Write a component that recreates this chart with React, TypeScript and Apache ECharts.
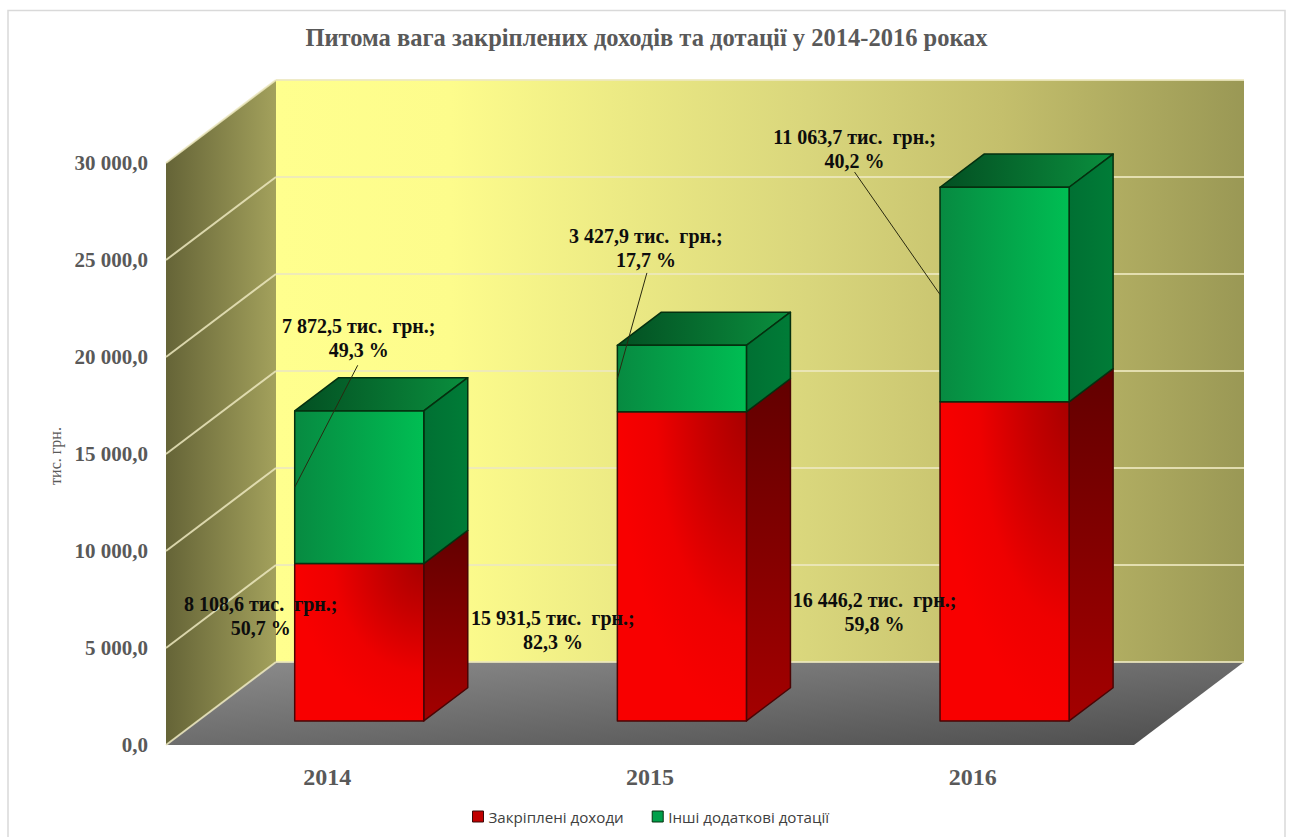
import React, { useEffect, useRef } from "react";
import * as echarts from "echarts";

const TITLE = "Питома вага закріплених доходів та дотації у 2014-2016 роках";
const AXIS_NAME = "тис. грн.";
const categories = ["2014", "2015", "2016"];
const seriesNames = ["Закріплені доходи", "Інші додаткові дотації"];
const fixedIncome = [8108.6, 15931.5, 16446.2];
const otherGrants = [7872.5, 3427.9, 11063.7];
const fixedShare = ["50,7", "82,3", "59,8"];
const otherShare = ["49,3", "17,7", "40,2"];
const yTicks = [0, 5000, 10000, 15000, 20000, 25000, 30000];

// Layout of the pseudo-3D scene and its labels (pixels, not data)
const DEPTH = { dx: 110, dy: -83 };
const BAR_NEAR = 0.29;
const BAR_FAR = 0.69;
const SERIF = "'Liberation Serif', serif";
// label centre and leader start, relative to the centre of the segment's front face
const fixedLabelOffset = [
  { x: -98.5, y: -26 },
  { x: -129, y: 64 },
  { x: -130, y: 51 },
];
const otherLabelOffset = [
  { x: -0.5, y: -149, lx: -1.5, ly: -122 },
  { x: -36, y: -130.7, lx: -35, ly: -105.7 },
  { x: -150, y: -146, lx: -150, ly: -122.5 },
];

const fmt = (v: number) =>
  v
    .toFixed(1)
    .replace(".", ",")
    .replace(/\B(?=(\d{3})+(?!\d))/g, " ");

const H = (a: string, b: string) =>
  new echarts.graphic.LinearGradient(0, 0, 1, 0, [
    { offset: 0, color: a },
    { offset: 1, color: b },
  ]);
const V = (a: string, b: string) =>
  new echarts.graphic.LinearGradient(0, 0, 0, 1, [
    { offset: 0, color: a },
    { offset: 1, color: b },
  ]);

const poly = (points: number[][], fill: any, stroke?: string, lineWidth = 1.5) => ({
  type: "polygon",
  shape: { points },
  style: { fill, stroke: stroke ?? "none", lineWidth, lineJoin: "round" },
});

function renderWalls(params: any) {
  const g = params.coordSys;
  const { dx, dy } = DEPTH;
  const l = g.x;
  const r = g.x + g.width;
  const t = g.y;
  const b = g.y + g.height;
  const back = new echarts.graphic.LinearGradient(0, 0, 1, 0, [
    { offset: 0, color: "#FFFF8E" },
    { offset: 0.18, color: "#FDFC8C" },
    { offset: 0.55, color: "#D9D67C" },
    { offset: 0.75, color: "#C4BF6C" },
    { offset: 1, color: "#9A9855" },
  ]);
  const floor = new echarts.graphic.LinearGradient(0, 0, 1, 1, [
    { offset: 0, color: "#8C8C8C" },
    { offset: 1, color: "#4D4D4D" },
  ]);
  return {
    type: "group",
    children: [
      poly(
        [
          [l + dx, t + dy],
          [r + dx, t + dy],
          [r + dx, b + dy],
          [l + dx, b + dy],
        ],
        back
      ),
      poly(
        [
          [l, t],
          [l + dx, t + dy],
          [l + dx, b + dy],
          [l, b],
        ],
        H("#656437", "#A3A15C")
      ),
      poly(
        [
          [l, b],
          [l + dx, b + dy],
          [r + dx, b + dy],
          [r, b],
        ],
        floor
      ),
    ],
  };
}

function renderGridLine(params: any, api: any) {
  const g = params.coordSys;
  const { dx, dy } = DEPTH;
  const y = api.coord([0, api.value(1)])[1];
  const stroke = "rgba(236,232,190,0.85)";
  const lineStyle = { stroke, lineWidth: 2 };
  return {
    type: "group",
    children: [
      { type: "line", shape: { x1: g.x, y1: y, x2: g.x + dx, y2: y + dy }, style: lineStyle },
      {
        type: "line",
        shape: { x1: g.x + dx, y1: y + dy, x2: g.x + g.width + dx, y2: y + dy },
        style: lineStyle,
      },
    ],
  };
}

function frontFace(api: any) {
  const [cx, yb] = api.coord([api.value(0), api.value(1)]);
  const yt = api.coord([api.value(0), api.value(2)])[1];
  const w = api.size([1, 0])[0] * 0.4;
  const ox = DEPTH.dx * BAR_NEAR;
  const oy = DEPTH.dy * BAR_NEAR;
  return {
    xl: cx + ox - w / 2,
    xr: cx + ox + w / 2,
    yb: yb + oy,
    yt: yt + oy,
    ddx: DEPTH.dx * (BAR_FAR - BAR_NEAR),
    ddy: DEPTH.dy * (BAR_FAR - BAR_NEAR),
  };
}

function renderFixed(_: any, api: any) {
  const { xl, xr, yb, yt, ddx, ddy } = frontFace(api);
  const stroke = "#4A0505";
  const front = new echarts.graphic.RadialGradient(1, 0, 1, [
    { offset: 0, color: "#A80000" },
    { offset: 0.3, color: "#C40000" },
    { offset: 0.7, color: "#EE0000" },
    { offset: 1, color: "#F80000" },
  ]);
  return {
    type: "group",
    children: [
      poly(
        [
          [xr, yb],
          [xr + ddx, yb + ddy],
          [xr + ddx, yt + ddy],
          [xr, yt],
        ],
        V("#620000", "#A40000"),
        stroke
      ),
      poly(
        [
          [xl, yb],
          [xr, yb],
          [xr, yt],
          [xl, yt],
        ],
        front,
        stroke
      ),
    ],
  };
}

function renderOther(_: any, api: any) {
  const { xl, xr, yb, yt, ddx, ddy } = frontFace(api);
  const stroke = "#05300F";
  return {
    type: "group",
    children: [
      poly(
        [
          [xl, yt],
          [xr, yt],
          [xr + ddx, yt + ddy],
          [xl + ddx, yt + ddy],
        ],
        H("#034F22", "#0A8F3E"),
        stroke
      ),
      poly(
        [
          [xr, yb],
          [xr + ddx, yb + ddy],
          [xr + ddx, yt + ddy],
          [xr, yt],
        ],
        H("#007033", "#007C37"),
        stroke
      ),
      poly(
        [
          [xl, yb],
          [xr, yb],
          [xr, yt],
          [xl, yt],
        ],
        H("#078A41", "#00BE53"),
        stroke
      ),
    ],
  };
}

function labelElement(
  api: any,
  value: number,
  share: string,
  offset: { x: number; y: number; lx?: number; ly?: number }
) {
  const { xl, xr, yb, yt } = frontFace(api);
  const cx = (xl + xr) / 2;
  const cy = (yb + yt) / 2;
  const children: any[] = [];
  if (offset.lx !== undefined) {
    children.push({
      type: "line",
      shape: { x1: cx + offset.lx, y1: cy + (offset.ly as number), x2: xl, y2: cy },
      style: { stroke: "#2A2A10", lineWidth: 1 },
    });
  }
  children.push({
    type: "text",
    x: cx + offset.x,
    y: cy + offset.y,
    style: {
      text: `${fmt(value)} тис.  грн.;\n${share} %`,
      fill: "#0D0D0D",
      fontFamily: SERIF,
      fontWeight: "bold",
      fontSize: 20,
      lineHeight: 24,
      align: "center",
      verticalAlign: "middle",
    },
  });
  return { type: "group", children };
}

export default function App() {
  const ref = useRef<HTMLDivElement>(null);
  useEffect(() => {
    const chart = echarts.init(ref.current as HTMLDivElement, undefined, { renderer: "svg" });
    const fixedData = fixedIncome.map((v, i) => [i, 0, v]);
    const otherData = otherGrants.map((v, i) => [i, fixedIncome[i], fixedIncome[i] + v]);
    chart.setOption({
      animation: false,
      backgroundColor: "#FFFFFF",
      title: {
        text: TITLE,
        left: 641.5,
        top: 20,
        textAlign: "center",
        textStyle: { fontFamily: SERIF, fontWeight: "bold", fontSize: 24.5, color: "#595959" },
      },
      graphic: [
        {
          type: "rect",
          shape: { x: 8, y: 10.5, width: 1277, height: 900 },
          style: { fill: "none", stroke: "#D9D9D9", lineWidth: 1.5 },
          silent: true,
        },
      ],
      legend: {
        left: 467,
        top: 804,
        itemWidth: 11,
        itemHeight: 11,
        itemGap: 28,
        icon: "rect",
        selectedMode: false,
        textStyle: { fontFamily: "'Open Sans', sans-serif", fontSize: 15.15, color: "#404040" },
        data: [
          {
            name: seriesNames[0],
            itemStyle: { color: "#C00000", borderColor: "#3A0A0A", borderWidth: 1 },
          },
          {
            name: seriesNames[1],
            itemStyle: { color: "#00A04A", borderColor: "#05300F", borderWidth: 1 },
          },
        ],
      },
      grid: { left: 166, top: 163, width: 968, height: 582, containLabel: false },
      xAxis: {
        type: "category",
        data: categories,
        boundaryGap: true,
        axisLine: { show: false },
        axisTick: { show: false },
        splitLine: { show: false },
        axisLabel: {
          margin: 20,
          fontFamily: SERIF,
          fontWeight: "bold",
          fontSize: 24,
          color: "#595959",
        },
      },
      yAxis: {
        type: "value",
        min: 0,
        max: 30000,
        interval: 5000,
        name: AXIS_NAME,
        nameLocation: "middle",
        nameGap: 99,
        nameRotate: 90,
        nameTextStyle: { fontFamily: SERIF, fontSize: 16, color: "#595959", padding: [0, 4, 0, 0] },
        axisLine: { show: false },
        axisTick: { show: false },
        splitLine: { show: false },
        axisLabel: {
          margin: 18,
          fontFamily: SERIF,
          fontWeight: "bold",
          fontSize: 21,
          color: "#595959",
          formatter: (v: number) => fmt(v),
        },
      },
      series: [
        {
          type: "custom",
          name: "walls",
          z: 1,
          silent: true,
          renderItem: renderWalls,
          data: [[0, 0]],
          encode: { x: 0, y: 1 },
        },
        {
          type: "custom",
          name: "gridlines",
          z: 2,
          silent: true,
          renderItem: renderGridLine,
          data: yTicks.map((t) => [0, t]),
          encode: { x: 0, y: 1 },
        },
        {
          type: "custom",
          name: seriesNames[0],
          z: 3,
          renderItem: renderFixed,
          data: fixedData,
          encode: { x: 0, y: [1, 2] },
          itemStyle: { color: "#C00000" },
        },
        {
          type: "custom",
          name: seriesNames[1],
          z: 4,
          renderItem: renderOther,
          data: otherData,
          encode: { x: 0, y: [1, 2] },
          itemStyle: { color: "#00A04A" },
        },
        {
          type: "custom",
          name: "fixed labels",
          z: 5,
          silent: true,
          renderItem: (p: any, api: any) =>
            labelElement(api, fixedIncome[p.dataIndex], fixedShare[p.dataIndex], fixedLabelOffset[p.dataIndex]),
          data: fixedData,
          encode: { x: 0, y: [1, 2] },
        },
        {
          type: "custom",
          name: "other labels",
          z: 5,
          silent: true,
          renderItem: (p: any, api: any) =>
            labelElement(api, otherGrants[p.dataIndex], otherShare[p.dataIndex], otherLabelOffset[p.dataIndex]),
          data: otherData,
          encode: { x: 0, y: [1, 2] },
        },
      ],
    });
    return () => chart.dispose();
  }, []);
  return (
    <div
      ref={ref}
      style={{ position: "fixed", left: 0, top: 0, width: 1291, height: 837, background: "#fff" }}
    />
  );
}
